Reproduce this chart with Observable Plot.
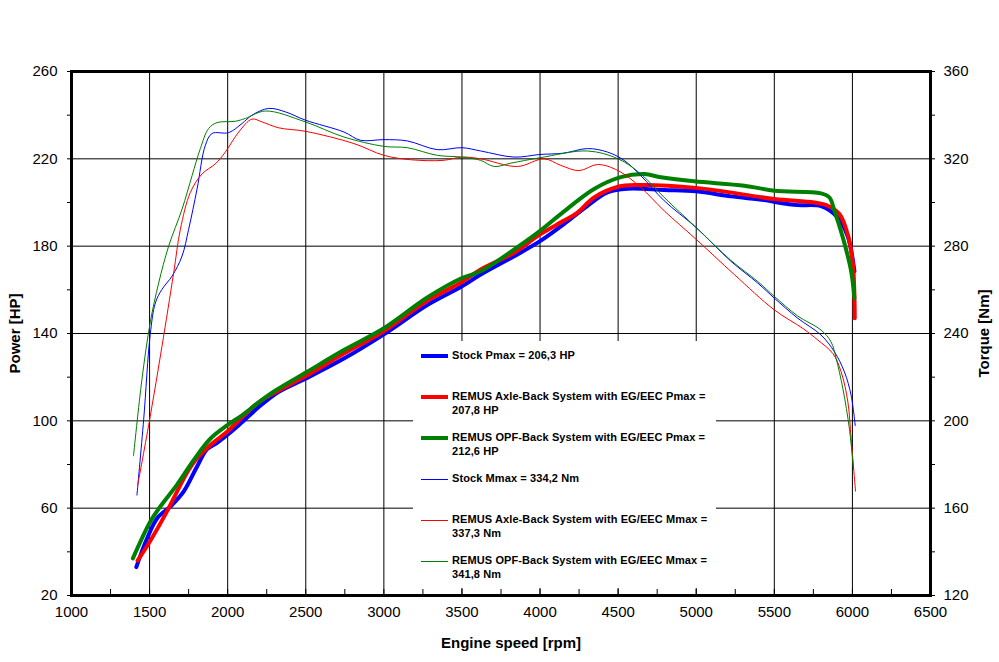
<!DOCTYPE html>
<html>
<head>
<meta charset="utf-8">
<script src="https://cdn.jsdelivr.net/npm/d3@7"></script>
<script src="https://cdn.jsdelivr.net/npm/@observablehq/plot@0.6"></script>
<style>
  html, body { margin: 0; padding: 0; background: #fff; }
  #wrap { position: relative; width: 999px; height: 662px; font-family: "Liberation Sans", Arial, sans-serif; }
  #legend { position: absolute; left: 413px; top: 341px; width: 303px; height: 247px; background: #fff; }
  .row { position: absolute; left: 0; width: 303px; }
  .sw { position: absolute; left: 8px; width: 27px; }
  .lt { position: absolute; left: 39px; width: 262px; font-weight: bold; font-size: 11px; letter-spacing: 0.1px; line-height: 13.5px; color: #000; }
</style>
</head>
<body>
<div id="wrap"><div id="legend"></div></div>
<script>
// ---- data ----
const rpmStockP = [1415,1480,1550,1640,1720,1800,1868,1930,1985,2071,2199,2327,2498,2744,3000,3278,3500,3620,3834,4000,4151,4304,4432,4560,4795,5000,5222,5436,5522,5650,5799,5906,5970,6013];
const hpStockP  = [33.0,45.5,55.5,61.2,67.8,78.5,87.0,89.8,92.8,98.0,106.3,113.3,119.3,128.5,139.6,153.0,161.6,167.0,175.4,182.3,190.0,198.5,204.6,206.3,205.7,205.1,202.8,201.1,200.0,198.8,198.3,193.1,184.5,168.5];

const rpmAxleP = [1423,1504,1615,1700,1750,1800,1868,1930,1996,2092,2199,2327,2498,2744,3000,3278,3500,3620,3834,4000,4151,4240,4346,4500,4624,5000,5500,5756,5842,5917,5970,6003,6015];
const hpAxleP  = [36.0,45.0,59.0,71.0,77.5,82.5,87.5,91.3,95.0,101.6,108.5,113.9,120.4,130.8,141.0,155.0,163.6,169.3,177.0,185.4,191.6,195.4,202.3,207.2,208.0,206.7,201.6,200.0,198.5,194.7,185.4,171.6,147.0];

const rpmOpfP = [1393,1504,1569,1676,1782,1889,1996,2092,2199,2306,2498,2744,3000,3278,3500,3620,3812,4000,4132,4346,4517,4667,4774,4987,5308,5500,5799,5853,5885,5939,5992,6013];
const hpOpfP  = [37.0,53.8,60.8,70.8,82.0,91.8,97.9,102.5,108.5,113.9,122.0,132.4,142.4,156.5,165.4,168.5,177.4,187.0,194.7,206.2,211.6,213.0,211.6,209.7,207.7,205.4,204.2,202.3,196.2,183.9,168.5,156.2];

const rpmStockM = [1419,1462,1504,1537,1579,1644,1708,1750,1804,1857,1900,2006,2092,2156,2263,2370,2498,2744,2850,3000,3150,3342,3500,3620,3834,4000,4151,4304,4432,4538,4645,4795,5000,5222,5394,5500,5650,5799,5885,5949,5992,6018];
const nmStockM  = [166,200.5,239.5,254,260.2,266.3,275.5,287.7,306.2,326.2,331.6,332,336.2,340,343.1,341.5,337.7,332.3,328.5,328.8,328.2,324.2,325.1,323.6,320.8,322,322.6,324.7,323.1,319.3,312.3,300.8,288.5,273.1,263.1,256.2,247,239.3,231.6,222.4,211.6,197.8];

const rpmAxleM = [1425,1504,1579,1654,1697,1761,1836,1921,1985,2071,2156,2220,2327,2498,2808,3000,3170,3380,3500,3620,3855,4026,4133,4250,4368,4500,4645,4795,5000,5244,5500,5683,5779,5875,5928,5971,5992,6020];
const nmAxleM  = [171,202,234,267.7,287.7,304.6,313.1,317.7,323.1,332.3,338.2,336.9,334.2,332.6,327,321.6,319.6,319.3,320.8,320,316.5,320,317,314.6,317.4,314.6,306.9,296.2,283.1,267,250.8,242.3,237,230.8,222.4,208.6,191.6,167.8];

const rpmOpfM = [1397,1451,1504,1558,1622,1708,1772,1825,1878,1932,2049,2113,2242,2498,2744,3000,3150,3342,3500,3620,3706,3812,4000,4304,4500,4645,4795,5000,5222,5394,5500,5650,5799,5863,5896,5939,5981,6007];
const nmOpfM  = [184,219,245,263.1,280,297,312.3,324.7,333.9,336.6,337.2,338.5,341.9,336.9,330,325.7,325.1,321.6,320.8,319.3,316.5,318,320.5,323.6,320,313.1,302.3,288.5,273.5,263.8,257,248,241.6,236.2,228.5,214.7,196.2,177.8];

const xTicks = [1000,1500,2000,2500,3000,3500,4000,4500,5000,5500,6000,6500];
const xMinorTicks = d3.range(1250, 6500, 250);
const xGrid = [1500,2000,2500,3000,3500,4000,4500,5000,5500,6000];
const powerTicks = d3.range(20, 261, 20);
const powerGrid = [60,100,140,180,220];

const legendLabels = [
  "Stock Pmax = 206,3 HP",
  "REMUS Axle-Back System with EG/EEC Pmax = 207,8 HP",
  "REMUS OPF-Back System with EG/EEC Pmax = 212,6 HP",
  "Stock Mmax = 334,2 Nm",
  "REMUS Axle-Back System with EG/EEC Mmax = 337,3 Nm",
  "REMUS OPF-Back System with EG/EEC Mmax = 341,8 Nm"
];

// ---- styles ----
const BLUE = "#0000ff", RED = "#ff0000", GREEN = "#008000";
const W = 999, H = 662, MT = 71, MB = 67, ML = 71, MR = 69;
const series = [
  {rpm: rpmStockP, val: hpStockP, torque: false, color: BLUE, w: 4},
  {rpm: rpmAxleP, val: hpAxleP, torque: false, color: RED, w: 4},
  {rpm: rpmOpfP, val: hpOpfP, torque: false, color: GREEN, w: 4},
  {rpm: rpmStockM, val: nmStockM, torque: true, color: BLUE, w: 1},
  {rpm: rpmAxleM, val: nmAxleM, torque: true, color: RED, w: 1},
  {rpm: rpmOpfM, val: nmOpfM, torque: true, color: GREEN, w: 1}
];

const lineMarks = series.map(s => Plot.line(d3.zip(s.rpm, s.val), {
  x: d => d[0],
  y: d => s.torque ? d[1] - 100 : d[1],
  stroke: s.color,
  strokeWidth: s.w,
  curve: "catmull-rom",
  strokeLinejoin: "round"
}));

const chart = Plot.plot({
  width: W,
  height: H,
  marginTop: MT,
  marginBottom: MB,
  marginLeft: ML,
  marginRight: MR,
  style: {fontFamily: "'Liberation Sans', Arial, sans-serif", fontSize: "15px", background: "#fff", overflow: "visible"},
  x: {domain: [1000, 6500]},
  y: {domain: [20, 260]},
  marks: [
    Plot.gridX(xGrid, {stroke: "#000", strokeOpacity: 1, strokeWidth: 1}),
    Plot.gridY(powerGrid, {stroke: "#000", strokeOpacity: 1, strokeWidth: 1}),
    // small inward ticks on the bottom axis
    Plot.ruleX(xMinorTicks, {x: d => d, stroke: "#000", strokeWidth: 1, insetTop: (H - MT - MB) - 6}),
    Plot.axisX(xTicks, {anchor: "bottom", tickSize: 0, tickPadding: 11, tickFormat: d => String(d), label: null}),
    Plot.axisY(powerTicks, {anchor: "left", tickSize: 4, tickPadding: 10, tickFormat: d => (d - 20) % 40 === 0 ? String(d) : "", label: null}),
    Plot.axisY(powerTicks, {anchor: "right", tickSize: 4, tickPadding: 9, tickFormat: d => (d - 20) % 40 === 0 ? String(d + 100) : "", label: null}),
    ...lineMarks,
    Plot.frame({stroke: "#000", strokeWidth: 3}),
    Plot.text(["Power [HP]"], {frameAnchor: "left", rotate: -90, dx: -56, textAnchor: "middle", fontWeight: "bold", fontSize: 15}),
    Plot.text(["Torque [Nm]"], {frameAnchor: "right", rotate: -90, dx: 54, textAnchor: "middle", fontWeight: "bold", fontSize: 15}),
    Plot.text(["Engine speed [rpm]"], {frameAnchor: "bottom", dy: 48, dx: 10, textAnchor: "middle", lineAnchor: "middle", fontWeight: "bold", fontSize: 15})
  ]
});

const wrap = document.getElementById("wrap");
wrap.insertBefore(chart, wrap.firstChild);

// ---- legend ----
const legend = document.getElementById("legend");
legendLabels.forEach((label, i) => {
  const s = series[i];
  const row = document.createElement("div");
  row.className = "row";
  row.style.top = (8 + i * 41) + "px";
  const sw = document.createElement("div");
  sw.className = "sw";
  sw.style.height = s.w + "px";
  sw.style.top = (s.w > 1 ? 5 : 7) + "px";
  sw.style.background = s.color;
  const t = document.createElement("div");
  t.className = "lt";
  t.textContent = label;
  row.appendChild(sw);
  row.appendChild(t);
  legend.appendChild(row);
});
</script>
</body>
</html>
